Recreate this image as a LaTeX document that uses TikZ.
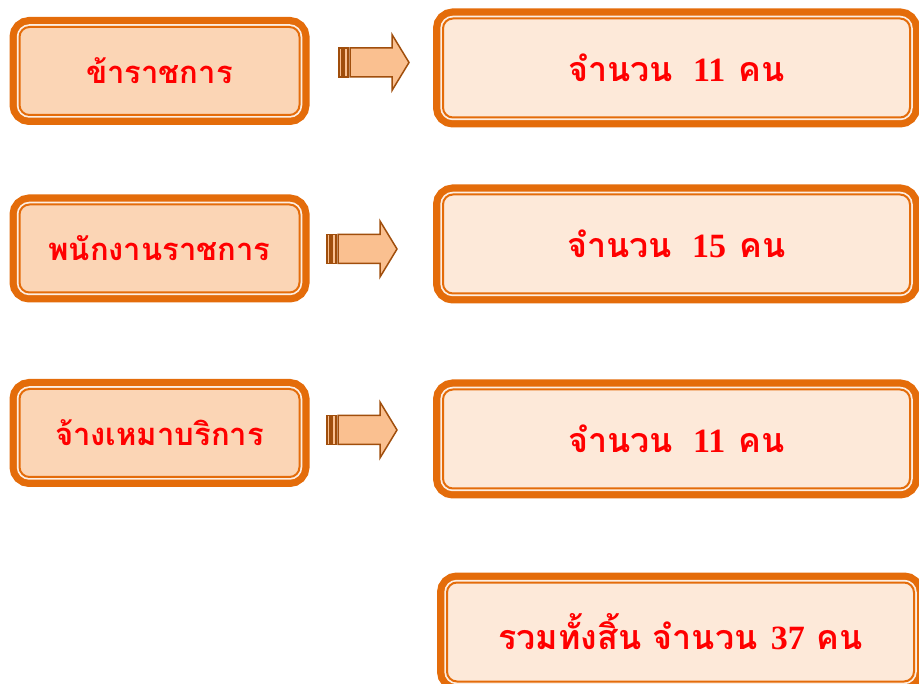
\documentclass[tikz,border=0pt]{standalone}
\usepackage{fontspec}
\usepackage{xcolor}
\newfontfamily\thaifont[Script=Thai]{Loma}
\newfontfamily\numfont{Liberation Serif}
\definecolor{boxorange}{RGB}{228,108,10}
\definecolor{leftfill}{RGB}{251,213,181}
\definecolor{rightfill}{RGB}{253,233,217}
\definecolor{gapfill}{RGB}{253,238,226}
\definecolor{arrowfill}{RGB}{250,192,144}
\definecolor{arrowline}{RGB}{160,78,12}
\newcommand{\num}[1]{{\numfont\bfseries #1}}

\tikzset{
	framebox/.style={rectangle,rounded corners=10pt,inner sep=0pt,draw=boxorange,line width=2pt,
		text=red,font=\thaifont\bfseries,
		preaction={draw=boxorange,line width=20pt},
		preaction={draw=gapfill,line width=5.5pt}},
	staffbox/.style={framebox,fill=leftfill,minimum width=280pt,minimum height=88pt,font=\thaifont\bfseries\fontsize{31}{38}\selectfont},
	countbox/.style={framebox,fill=rightfill,minimum width=467pt,minimum height=99pt,font=\thaifont\bfseries\fontsize{34}{40}\selectfont},
	arrowpart/.style={draw=arrowline,fill=arrowfill,line width=1.5pt,line join=miter},
	stripearrow/.pic={
		\draw[arrowpart] (0,-14.5) rectangle (3,14.5);
		\draw[arrowpart] (5,-14.5) rectangle (9,14.5);
		\draw[arrowpart] (11,-14.5) -- (53,-14.5) -- (53,-28) -- (70,0) -- (53,28) -- (53,14.5) -- (11,14.5) -- cycle;
	}
}

\begin{document}
\begin{tikzpicture}[x=1pt,y=-1pt]
	\useasboundingbox (0,0) rectangle (919,684);
	\clip (0,0) rectangle (919,684);
	% left column
	\node[staffbox] (civil) at (159.5,71) {ข้าราชการ};
	\node[staffbox] (officer) at (159.5,248.5) {พนักงานราชการ};
	\node[staffbox] (hired) at (159.5,433) {จ้างเหมาบริการ};
	% right column
	\node[countbox] (civilnum) at (676.5,68) {จำนวน\hspace{0.6em}\num{11}\hspace{0.4em}คน};
	\node[countbox] (officernum) at (676.5,244) {จำนวน\hspace{0.6em}\num{15}\hspace{0.4em}คน};
	\node[countbox] (hirednum) at (676.5,439) {จำนวน\hspace{0.6em}\num{11}\hspace{0.4em}คน};
	\node[countbox] (total) at (680.5,632) {รวมทั้งสิ้น จำนวน\hspace{0.4em}\num{37} คน};
	% arrows
	\pic at (339,62.5) {stripearrow};
	\pic at (327,249) {stripearrow};
	\pic at (327,430) {stripearrow};
\end{tikzpicture}
\end{document}
